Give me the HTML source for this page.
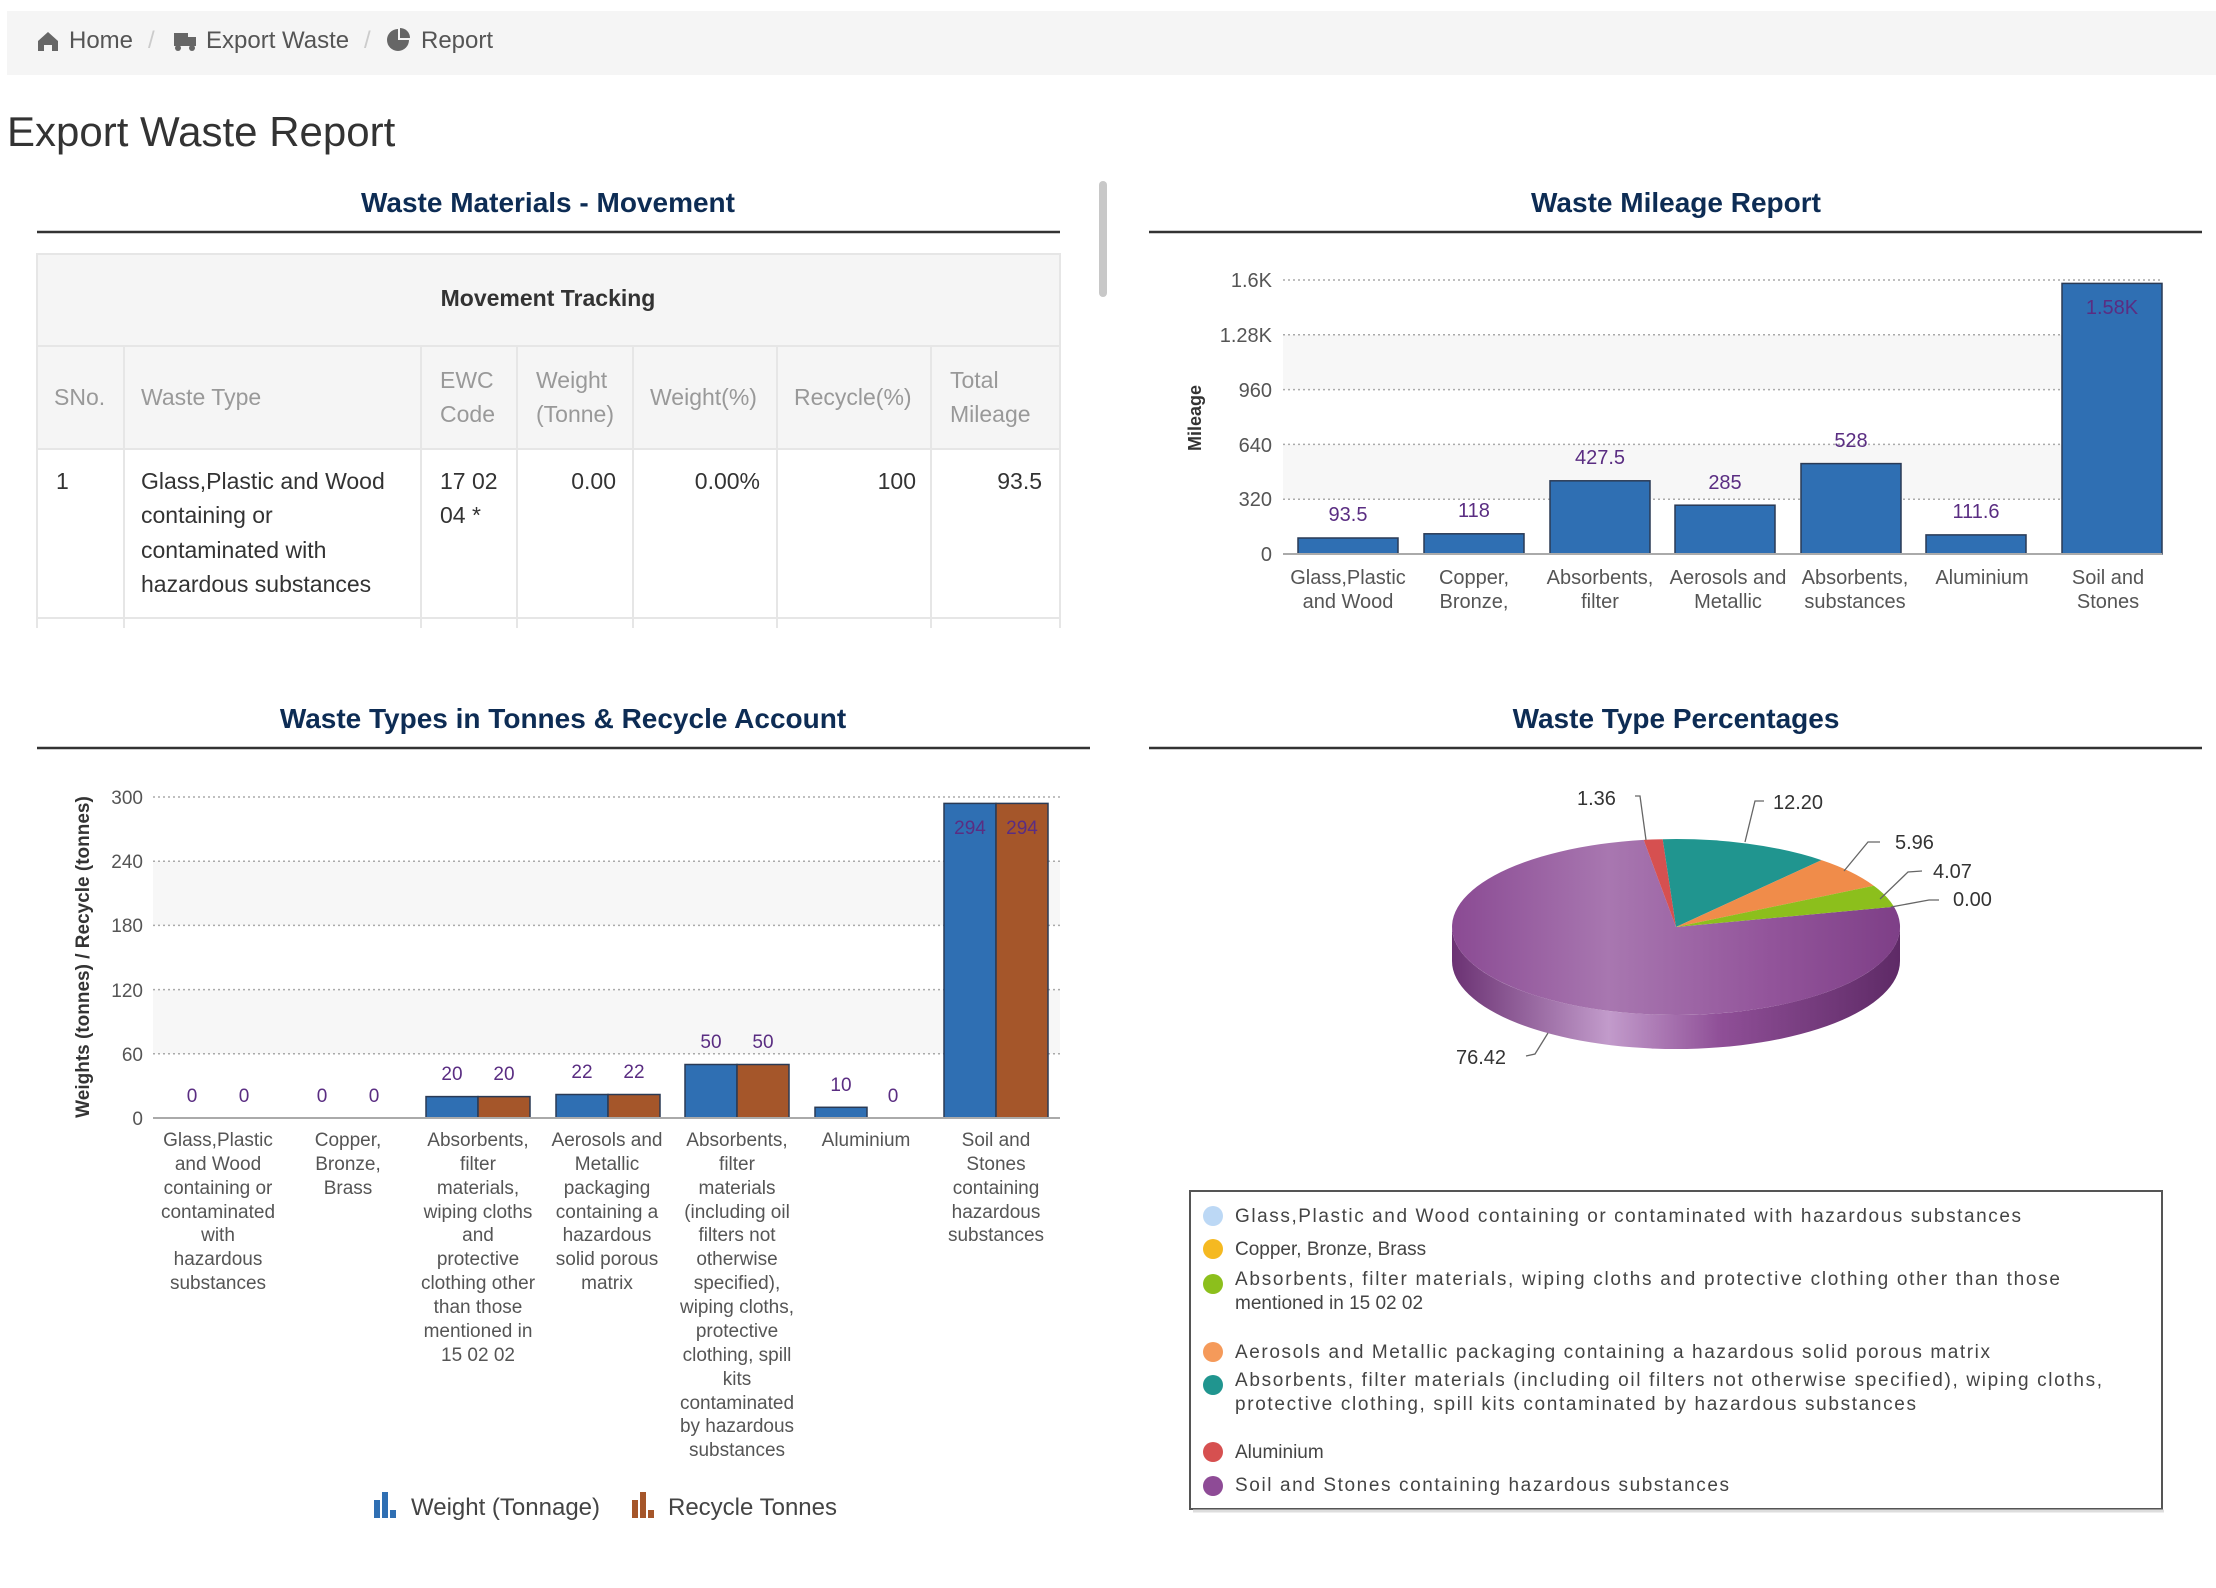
<!DOCTYPE html>
<html><head><meta charset="utf-8"><style>
html,body{margin:0;padding:0;background:#fff;width:2216px;height:1588px;overflow:hidden}
svg{display:block}
text{font-family:"Liberation Sans",Arial,sans-serif}
.dv{font-family:"DejaVu Sans","Liberation Sans",sans-serif}
</style></head><body>
<svg width="2216" height="1588" viewBox="0 0 2216 1588" xmlns="http://www.w3.org/2000/svg">
<defs>
<linearGradient id="pg" x1="0" y1="0" x2="1" y2="0">
<stop offset="0" stop-color="#8a4a93"/><stop offset="0.35" stop-color="#a877b0"/><stop offset="0.7" stop-color="#93559b"/><stop offset="1" stop-color="#7e3f87"/></linearGradient>
<linearGradient id="sg" x1="0" y1="0" x2="1" y2="0">
<stop offset="0" stop-color="#6b3273"/><stop offset="0.35" stop-color="#c29bcb"/><stop offset="0.6" stop-color="#8f4f97"/><stop offset="1" stop-color="#5e2a66"/></linearGradient>
</defs>
<!-- breadcrumb -->
<rect x="7" y="11" width="2209" height="64" fill="#f5f5f5"/>
<g fill="#555" font-size="24">
<path d="M38 41 l10 -9 l10 9 v10 h-6 v-6 h-8 v6 h-6z" fill="#666"/>
<text x="69" y="48">Home</text>
<text x="148" y="48" fill="#ccc">/</text>
<rect x="174" y="33" width="14" height="13" fill="#666"/><rect x="188" y="37" width="8" height="9" fill="#666"/><circle cx="178" cy="48" r="3" fill="#666"/><circle cx="192" cy="48" r="3" fill="#666"/>
<text x="206" y="48">Export Waste</text>
<text x="364" y="48" fill="#ccc">/</text>
<circle cx="398" cy="40" r="11" fill="#666"/><path d="M398 40 V27 A13 13 0 0 1 411 40Z" fill="#f5f5f5"/><path d="M400 38 V28 A10 10 0 0 1 410 38Z" fill="#666"/>
<text x="421" y="48">Report</text>
</g>
<text x="7" y="146" font-size="42" fill="#333">Export Waste Report</text>
<!-- scrollbar -->
<rect x="1099" y="181" width="8" height="116" rx="4" fill="#c8c8c8"/>
<!-- section titles -->
<g font-size="28" font-weight="bold" fill="#0d2c54" text-anchor="middle">
<text x="548" y="212">Waste Materials - Movement</text>
<text x="1676" y="212">Waste Mileage Report</text>
<text x="563" y="728">Waste Types in Tonnes &amp; Recycle Account</text>
<text x="1676" y="728">Waste Type Percentages</text>
</g>
<g stroke="#333" stroke-width="2.5">
<line x1="37" y1="232" x2="1060" y2="232"/><line x1="1149" y1="232" x2="2202" y2="232"/>
<line x1="37" y1="748" x2="1090" y2="748"/><line x1="1149" y1="748" x2="2202" y2="748"/>
</g>
<!-- table -->
<rect x="37" y="254" width="1023" height="195" fill="#f5f5f5"/>
<g stroke="#e6e6e6" stroke-width="2" fill="none">
<rect x="37" y="254" width="1023" height="380"/>
<line x1="37" y1="346" x2="1060" y2="346"/><line x1="37" y1="449" x2="1060" y2="449"/><line x1="37" y1="618" x2="1060" y2="618"/>
<line x1="124" y1="346" x2="124" y2="634"/><line x1="421" y1="346" x2="421" y2="634"/><line x1="517" y1="346" x2="517" y2="634"/><line x1="633" y1="346" x2="633" y2="634"/><line x1="777" y1="346" x2="777" y2="634"/><line x1="931" y1="346" x2="931" y2="634"/>
</g>
<rect x="30" y="628" width="1040" height="20" fill="#fff"/>
<text x="548" y="306" font-size="23" font-weight="bold" fill="#333" text-anchor="middle">Movement Tracking</text>
<g font-size="23" fill="#999">
<text x="54" y="405">SNo.</text><text x="141" y="405">Waste Type</text>
<text x="440" y="388">EWC</text><text x="440" y="422">Code</text>
<text x="536" y="388">Weight</text><text x="536" y="422">(Tonne)</text>
<text x="650" y="405">Weight(%)</text><text x="794" y="405">Recycle(%)</text>
<text x="950" y="388">Total</text><text x="950" y="422">Mileage</text>
</g>
<g font-size="23" fill="#333">
<text x="56" y="489">1</text>
<text x="141" y="489">Glass,Plastic and Wood</text><text x="141" y="523">containing or</text><text x="141" y="558">contaminated with</text><text x="141" y="592">hazardous substances</text>
<text x="440" y="489">17 02</text><text x="440" y="523">04 *</text>
<g text-anchor="end"><text x="616" y="489">0.00</text><text x="760" y="489">0.00%</text><text x="916" y="489">100</text><text x="1042" y="489">93.5</text></g>
</g>
<!-- mileage chart -->
<rect x="1283" y="334.8" width="879" height="54.8" fill="#f7f7f7"/>
<rect x="1283" y="444.4" width="879" height="54.8" fill="#f7f7f7"/>
<g stroke="#aaa" stroke-width="1.5" stroke-dasharray="2,3">
<line x1="1283" y1="280" x2="2162" y2="280"/><line x1="1283" y1="334.8" x2="2162" y2="334.8"/><line x1="1283" y1="389.6" x2="2162" y2="389.6"/><line x1="1283" y1="444.4" x2="2162" y2="444.4"/><line x1="1283" y1="499.2" x2="2162" y2="499.2"/>
</g>
<g font-size="20" fill="#555" text-anchor="end">
<text x="1272" y="287">1.6K</text><text x="1272" y="342">1.28K</text><text x="1272" y="397">960</text><text x="1272" y="452">640</text><text x="1272" y="506">320</text><text x="1272" y="561">0</text>
</g>
<text transform="translate(1201,418) rotate(-90)" font-size="18" font-weight="bold" fill="#333" text-anchor="middle">Mileage</text>
<g fill="#2f6fb3" stroke="#2a3a55" stroke-width="1.5">
<rect x="1298" y="538" width="100" height="16"/>
<rect x="1424" y="533.8" width="100" height="20.2"/>
<rect x="1550" y="480.8" width="100" height="73.2"/>
<rect x="1675" y="505.2" width="100" height="48.8"/>
<rect x="1801" y="463.6" width="100" height="90.4"/>
<rect x="1926" y="534.9" width="100" height="19.1"/>
<rect x="2062" y="283.4" width="100" height="270.6"/>
</g>
<line x1="1283" y1="554" x2="2162" y2="554" stroke="#aaa" stroke-width="2"/>
<g font-size="20" fill="#5a2d82" text-anchor="middle">
<text x="1348" y="521">93.5</text><text x="1474" y="517">118</text><text x="1600" y="464">427.5</text><text x="1725" y="489">285</text><text x="1851" y="447">528</text><text x="1976" y="518">111.6</text><text x="2112" y="314">1.58K</text>
</g>
<g font-size="20" fill="#555" text-anchor="middle">
<text x="1348" y="584">Glass,Plastic</text><text x="1348" y="608">and Wood</text>
<text x="1474" y="584">Copper,</text><text x="1474" y="608">Bronze,</text>
<text x="1600" y="584">Absorbents,</text><text x="1600" y="608">filter</text>
<text x="1728" y="584">Aerosols and</text><text x="1728" y="608">Metallic</text>
<text x="1855" y="584">Absorbents,</text><text x="1855" y="608">substances</text>
<text x="1982" y="584">Aluminium</text>
<text x="2108" y="584">Soil and</text><text x="2108" y="608">Stones</text>
</g>
<!-- tonnes chart -->
<rect x="153" y="861.2" width="907" height="64.2" fill="#f7f7f7"/>
<rect x="153" y="989.6" width="907" height="64.2" fill="#f7f7f7"/>
<g stroke="#aaa" stroke-width="1.5" stroke-dasharray="2,3">
<line x1="153" y1="797" x2="1060" y2="797"/><line x1="153" y1="861.2" x2="1060" y2="861.2"/><line x1="153" y1="925.4" x2="1060" y2="925.4"/><line x1="153" y1="989.6" x2="1060" y2="989.6"/><line x1="153" y1="1053.8" x2="1060" y2="1053.8"/>
</g>
<g font-size="19" fill="#555" text-anchor="end">
<text x="143" y="804">300</text><text x="143" y="868">240</text><text x="143" y="932">180</text><text x="143" y="997">120</text><text x="143" y="1061">60</text><text x="143" y="1125">0</text>
</g>
<text transform="translate(89,957) rotate(-90)" font-size="19" font-weight="bold" fill="#333" text-anchor="middle">Weights (tonnes) / Recycle (tonnes)</text>
<g stroke="#2a3a55" stroke-width="1.5">
<rect x="426" y="1096.6" width="52" height="21.4" fill="#2f6fb3"/><rect x="478" y="1096.6" width="52" height="21.4" fill="#a5562a"/>
<rect x="556" y="1094.5" width="52" height="23.5" fill="#2f6fb3"/><rect x="608" y="1094.5" width="52" height="23.5" fill="#a5562a"/>
<rect x="685" y="1064.5" width="52" height="53.5" fill="#2f6fb3"/><rect x="737" y="1064.5" width="52" height="53.5" fill="#a5562a"/>
<rect x="815" y="1107.3" width="52" height="10.7" fill="#2f6fb3"/>
<rect x="944" y="803.4" width="52" height="314.6" fill="#2f6fb3"/><rect x="996" y="803.4" width="52" height="314.6" fill="#a5562a"/>
</g>
<line x1="153" y1="1118" x2="1060" y2="1118" stroke="#aaa" stroke-width="2"/>
<g font-size="19" fill="#5a2d82" text-anchor="middle">
<text x="192" y="1102">0</text><text x="244" y="1102">0</text>
<text x="322" y="1102">0</text><text x="374" y="1102">0</text>
<text x="452" y="1080">20</text><text x="504" y="1080">20</text>
<text x="582" y="1078">22</text><text x="634" y="1078">22</text>
<text x="711" y="1048">50</text><text x="763" y="1048">50</text>
<text x="841" y="1091">10</text><text x="893" y="1102">0</text>
<text x="970" y="834">294</text><text x="1022" y="834">294</text>
</g>
<g font-size="19" fill="#555" text-anchor="middle">
<text x="218" y="1146">Glass,Plastic</text><text x="218" y="1170">and Wood</text><text x="218" y="1194">containing or</text><text x="218" y="1218">contaminated</text><text x="218" y="1241">with</text><text x="218" y="1265">hazardous</text><text x="218" y="1289">substances</text>
<text x="348" y="1146">Copper,</text><text x="348" y="1170">Bronze,</text><text x="348" y="1194">Brass</text>
<text x="478" y="1146">Absorbents,</text><text x="478" y="1170">filter</text><text x="478" y="1194">materials,</text><text x="478" y="1218">wiping cloths</text><text x="478" y="1241">and</text><text x="478" y="1265">protective</text><text x="478" y="1289">clothing other</text><text x="478" y="1313">than those</text><text x="478" y="1337">mentioned in</text><text x="478" y="1361">15 02 02</text>
<text x="607" y="1146">Aerosols and</text><text x="607" y="1170">Metallic</text><text x="607" y="1194">packaging</text><text x="607" y="1218">containing a</text><text x="607" y="1241">hazardous</text><text x="607" y="1265">solid porous</text><text x="607" y="1289">matrix</text>
<text x="737" y="1146">Absorbents,</text><text x="737" y="1170">filter</text><text x="737" y="1194">materials</text><text x="737" y="1218">(including oil</text><text x="737" y="1241">filters not</text><text x="737" y="1265">otherwise</text><text x="737" y="1289">specified),</text><text x="737" y="1313">wiping cloths,</text><text x="737" y="1337">protective</text><text x="737" y="1361">clothing, spill</text><text x="737" y="1385">kits</text><text x="737" y="1409">contaminated</text><text x="737" y="1432">by hazardous</text><text x="737" y="1456">substances</text>
<text x="866" y="1146">Aluminium</text>
<text x="996" y="1146">Soil and</text><text x="996" y="1170">Stones</text><text x="996" y="1194">containing</text><text x="996" y="1218">hazardous</text><text x="996" y="1241">substances</text>
</g>
<g>
<rect x="374" y="1500" width="6" height="18" fill="#2f6fb3"/><rect x="382" y="1492" width="6" height="26" fill="#2f6fb3"/><rect x="390" y="1510" width="6" height="8" fill="#2f6fb3"/>
<text x="411" y="1515" font-size="24" fill="#444">Weight (Tonnage)</text>
<rect x="632" y="1500" width="6" height="18" fill="#a5562a"/><rect x="640" y="1492" width="6" height="26" fill="#a5562a"/><rect x="648" y="1510" width="6" height="8" fill="#a5562a"/>
<text x="668" y="1515" font-size="24" fill="#444">Recycle Tonnes</text>
</g>
<!-- pie -->
<path d="M1452 927 A224 88 0 0 0 1900 927 L1900 961 A224 88 0 0 1 1452 961 Z" fill="url(#sg)"/>
<path d="M1676 927 L1894 906.7 A224 88 0 1 1 1643.7 839.9 Z" fill="url(#pg)"/>
<path d="M1676 927 L1643.7 839.9 A224 88 0 0 1 1662.7 839.2 Z" fill="#d65050"/>
<path d="M1676 927 L1662.7 839.2 A224 88 0 0 1 1821.5 860.1 Z" fill="#20958f"/>
<path d="M1676 927 L1821.5 860.1 A224 88 0 0 1 1873.8 885.7 Z" fill="#f08c4a"/>
<path d="M1676 927 L1873.8 885.7 A224 88 0 0 1 1894 906.7 Z" fill="#8cbf1c"/>
<g stroke="#666" stroke-width="1.3" fill="none">
<polyline points="1635,796 1640,796 1646,840"/>
<polyline points="1764,801 1755,801 1745,842"/>
<polyline points="1880,842 1868,842 1844,871"/>
<polyline points="1922,871 1908,872 1880,899"/>
<polyline points="1939,900 1929,900 1891,907"/>
<polyline points="1526,1056 1535,1054 1548,1033"/>
</g>
<g class="dv" font-size="20" fill="#333">
<text x="1577" y="805">1.36</text><text x="1773" y="809">12.20</text><text x="1895" y="849">5.96</text><text x="1933" y="878">4.07</text><text x="1953" y="906">0.00</text><text x="1456" y="1064">76.42</text>
</g>
<!-- legend -->
<rect x="1190" y="1191" width="972" height="318" fill="#fff" stroke="#555" stroke-width="2"/>
<line x1="1193" y1="1511" x2="2164" y2="1511" stroke="#ddd" stroke-width="3"/>
<g>
<circle cx="1213" cy="1216" r="10" fill="#bcd8f5"/><circle cx="1213" cy="1249" r="10" fill="#f5b921"/><circle cx="1213" cy="1284" r="10" fill="#8cbf1c"/><circle cx="1213" cy="1352" r="10" fill="#f59a5a"/><circle cx="1213" cy="1385" r="10" fill="#20958f"/><circle cx="1213" cy="1452" r="10" fill="#d65050"/><circle cx="1213" cy="1486" r="10" fill="#8e4b96"/>
</g>
<g class="dv" font-size="19" fill="#444">
<text x="1235" y="1222" textLength="786">Glass,Plastic and Wood containing or contaminated with hazardous substances</text>
<text x="1235" y="1255">Copper, Bronze, Brass</text>
<text x="1235" y="1285" textLength="825">Absorbents, filter materials, wiping cloths and protective clothing other than those</text>
<text x="1235" y="1309">mentioned in 15 02 02</text>
<text x="1235" y="1358" textLength="755">Aerosols and Metallic packaging containing a hazardous solid porous matrix</text>
<text x="1235" y="1386" textLength="867">Absorbents, filter materials (including oil filters not otherwise specified), wiping cloths,</text>
<text x="1235" y="1410" textLength="681">protective clothing, spill kits contaminated by hazardous substances</text>
<text x="1235" y="1458">Aluminium</text>
<text x="1235" y="1491" textLength="494">Soil and Stones containing hazardous substances</text>
</g>
</svg>
</body></html>
